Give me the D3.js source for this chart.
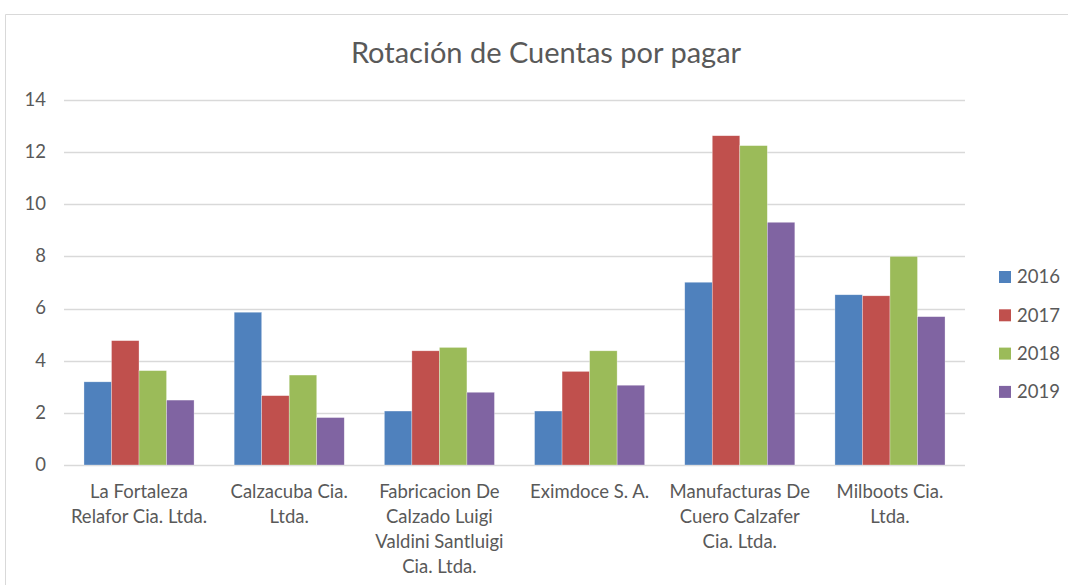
<!DOCTYPE html>
<html>
<head>
<meta charset="utf-8">
<script src="https://cdn.jsdelivr.net/npm/d3@7"></script>
<style>
  body { margin: 0; background: #fff; }
  text { font-family: Lato, "Open Sans", sans-serif; fill: #595959; }
</style>
</head>
<body>
<svg id="chart" width="1068" height="585"></svg>
<script>
const categories = [
    "La Fortaleza Relafor Cia. Ltda.",
    "Calzacuba Cia. Ltda.",
    "Fabricacion De Calzado Luigi Valdini Santluigi Cia. Ltda.",
    "Eximdoce S. A.",
    "Manufacturas De Cuero Calzafer Cia. Ltda.",
    "Milboots Cia. Ltda."
];
const years = ["2016", "2017", "2018", "2019"];
const v2016 = [3.19, 5.86, 2.07, 2.07, 7.01, 6.53];
const v2017 = [4.77, 2.66, 4.38, 3.59, 12.63, 6.49];
const v2018 = [3.62, 3.45, 4.51, 4.38, 12.25, 8.00];
const v2019 = [2.49, 1.82, 2.79, 3.06, 9.31, 5.69];
const yTicks = [0, 2, 4, 6, 8, 10, 12, 14];

const series = [v2016, v2017, v2018, v2019];
const colors = ["#4F81BD", "#C0504D", "#9BBB59", "#8064A2"];

const svg = d3.select("#chart");
const width = 1068, height = 585;
const plot = { left: 64, right: 965, top: 100, bottom: 465 };

// chart border (cropped excel chart)
svg.append("path")
    .attr("d", `M5.5,${height} L5.5,14.5 L${width},14.5`)
    .attr("fill", "none")
    .attr("stroke", "#D9D9D9")
    .attr("stroke-width", 1);

svg.append("text")
    .attr("x", 546)
    .attr("y", 63)
    .attr("text-anchor", "middle")
    .style("font-size", "29px")
    .text("Rotación de Cuentas por pagar");

const y = d3.scaleLinear().domain([0, 14]).range([plot.bottom, plot.top]);
const x0 = d3.scaleBand().domain(categories).range([plot.left, plot.right]).paddingInner(0.267).paddingOuter(0.133);
const x1 = d3.scaleBand().domain(years).range([0, x0.bandwidth()]);

// gridlines
svg.append("g")
    .selectAll("line")
    .data(yTicks)
    .join("line")
    .attr("x1", plot.left)
    .attr("x2", plot.right)
    .attr("y1", d => Math.round(y(d)) + 0.5)
    .attr("y2", d => Math.round(y(d)) + 0.5)
    .attr("stroke", "#D9D9D9")
    .attr("stroke-width", 1.3);

// y labels
svg.append("g")
    .selectAll("text")
    .data(yTicks)
    .join("text")
    .attr("x", 46)
    .attr("y", d => y(d))
    .attr("dy", "0.32em")
    .attr("text-anchor", "end")
    .style("font-size", "18.5px")
    .text(d => d);

// bars
const groups = svg.append("g")
    .selectAll("g")
    .data(categories)
    .join("g")
    .attr("transform", d => `translate(${x0(d)},0)`);

groups.selectAll("rect")
    .data((d, i) => years.map((yr, j) => ({ year: yr, value: series[j][i], idx: j })))
    .join("rect")
    .attr("x", d => x1(d.year))
    .attr("y", d => y(d.value))
    .attr("width", x1.bandwidth())
    .attr("height", d => y(0) - y(d.value))
    .attr("fill", d => colors[d.idx])
    .attr("stroke", "#ffffff")
    .attr("stroke-opacity", 0.5)
    .attr("stroke-width", 0.6);

// category labels, wrapped
const maxLabelWidth = 146;
svg.append("g")
    .selectAll("text")
    .data(categories)
    .join("text")
    .attr("text-anchor", "middle")
    .style("font-size", "18.5px")
    .each(function (d) {
        const t = d3.select(this);
        const cx = x0(d) + x0.bandwidth() / 2;
        const words = d.split(" ");
        let lines = [], line = [];
        const probe = t.append("tspan");
        words.forEach(w => {
            const test = line.concat(w).join(" ");
            probe.text(test);
            if (probe.node().getComputedTextLength() > maxLabelWidth && line.length) {
                lines.push(line.join(" "));
                line = [w];
            } else {
                line.push(w);
            }
        });
        lines.push(line.join(" "));
        probe.remove();
        lines.forEach((l, i) => {
            t.append("tspan")
                .attr("x", cx)
                .attr("y", 498 + i * 25)
                .text(l);
        });
    });

// legend
const legend = svg.append("g")
    .selectAll("g")
    .data(years)
    .join("g")
    .attr("transform", (d, i) => `translate(999,${277 + i * 38.3})`);

legend.append("rect")
    .attr("x", 0)
    .attr("y", -6)
    .attr("width", 12)
    .attr("height", 12)
    .attr("fill", (d, i) => colors[i]);

legend.append("text")
    .attr("x", 18)
    .attr("y", 0)
    .attr("dy", "0.35em")
    .style("font-size", "18.5px")
    .text(d => d);
</script>
</body>
</html>
